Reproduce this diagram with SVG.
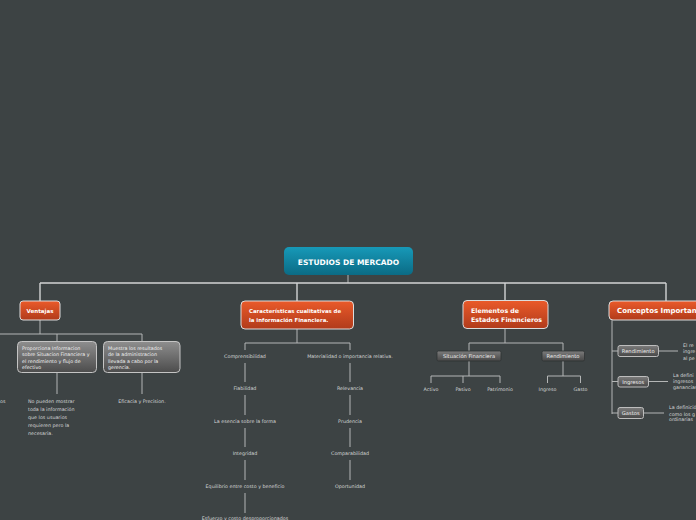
<svg xmlns="http://www.w3.org/2000/svg" width="696" height="520" viewBox="0 0 696 520">
<defs>
<linearGradient id="gTeal" x1="0" y1="0" x2="0" y2="1"><stop offset="0" stop-color="#1799b8"/><stop offset="1" stop-color="#0b6b85"/></linearGradient>
<linearGradient id="gOr" x1="0" y1="0" x2="0" y2="1"><stop offset="0" stop-color="#ea5a2a"/><stop offset="1" stop-color="#b13b1b"/></linearGradient>
<linearGradient id="gGrey" x1="0" y1="0" x2="0" y2="1"><stop offset="0" stop-color="#8e8e8e"/><stop offset="1" stop-color="#4c4c4c"/></linearGradient>
<linearGradient id="gGrey2" x1="0" y1="0" x2="0" y2="1"><stop offset="0" stop-color="#7c7c7c"/><stop offset="1" stop-color="#474747"/></linearGradient>
</defs>
<style>
.bg{fill:#3d4344}
.ln{stroke:#b4b6b6;stroke-width:1;fill:none}
.lnm{stroke:#d2d4d4;stroke-width:1.4;fill:none}
.root{fill:url(#gTeal)}
.or{fill:url(#gOr);stroke:#dcdcdc;stroke-width:1}
.gr{fill:url(#gGrey);stroke:#c4c4c4;stroke-width:1}
.gs{fill:url(#gGrey2);stroke:#2e3233;stroke-width:0.8}
.gb{fill:url(#gGrey2);stroke:#bdbdbd;stroke-width:1}
text{font-family:"DejaVu Sans","Liberation Sans",sans-serif;fill:#ffffff}
.tb{font-weight:bold}
.lf{font-size:4.8px;fill:#d6d8d8;text-anchor:middle}
.lfl{font-size:4.8px;fill:#d6d8d8}
.bx{font-size:4.8px;fill:#f2f2f2}
.sm{font-size:5.2px;fill:#eeeeee;text-anchor:middle}
</style>
<rect class="bg" x="0" y="0" width="696" height="520"/>

<g id="connectors">
<path class="ln" d="M348 275V283"/>
<path class="lnm" d="M40 283H666M40 283V301M297 283V301M505 283V301M666 283V301"/>
<path class="ln" d="M40 320V334M0 334H142M57 334V341M142 334V341M57 373V394M142 373V394"/>
<path class="ln" d="M297 329V343M245 343H350M245 343V350M350 343V350"/>
<path class="ln" d="M245 363V382M245 395V415M245 428V447M245 460V480M245 493V513"/>
<path class="ln" d="M350 363V382M350 395V415M350 428V447M350 460V480"/>
<path class="ln" d="M505 329V343M469 343H563M469 343V351M563 343V351"/>
<path class="ln" d="M469 361V376M431 376H500M431 376V383M463 376V383M500 376V383"/>
<path class="ln" d="M563 361V376M547.5 376H580.5M547.5 376V383M580.5 376V383"/>
<path class="ln" d="M612 320V414M612 351H618M612 381.5H618M612 413H618"/>
<path class="ln" d="M658 351H678M649 381.5H668M643 413H664"/>
</g>

<g id="root">
<rect class="root" x="284" y="247" width="129" height="28" rx="5"/>
<text class="tb" x="348.5" y="264.5" font-size="7.5" text-anchor="middle">ESTUDIOS DE MERCADO</text>
</g>

<g id="ventajas">
<rect class="or" x="20" y="301" width="40" height="19" rx="3"/>
<text class="tb" x="40" y="312.5" font-size="5.5" text-anchor="middle">Ventajas</text>
</g>
<g id="proporciona">
<rect class="gr" x="17.5" y="341.5" width="79" height="31" rx="4"/>
<text class="bx" x="22" y="350">Proporciona Informacion</text>
<text class="bx" x="22" y="356">sobre Situacion Financiera y</text>
<text class="bx" x="22" y="363">el rendimiento  y flujo de</text>
<text class="bx" x="22" y="369">efectivo</text>
</g>
<g id="muestra">
<rect class="gr" x="103.5" y="341.5" width="76.5" height="31" rx="4"/>
<text class="bx" x="108" y="350">Muestra los resultados</text>
<text class="bx" x="108" y="356">de la administracion</text>
<text class="bx" x="108" y="363">llevada a cabo  por la</text>
<text class="bx" x="108" y="369">gerencia.</text>
</g>
<g id="os"><text class="lfl" x="0" y="403">os</text></g>
<g id="nopueden">
<text class="lfl" x="28" y="403">No pueden mostrar</text>
<text class="lfl" x="28" y="411">toda la información</text>
<text class="lfl" x="28" y="419">que los usuarios</text>
<text class="lfl" x="28" y="427">requieren pero la</text>
<text class="lfl" x="28" y="435">necesaria.</text>
</g>
<g id="eficacia"><text class="lf" x="142" y="403">Eficacia y Precision.</text></g>

<g id="caracteristicas">
<rect class="or" x="241" y="301" width="112.5" height="28" rx="4"/>
<text class="tb" x="249" y="313" font-size="5.4">Características cualitativas de</text>
<text class="tb" x="249" y="322" font-size="5.4">la información Financiera.</text>
</g>
<g id="comprensibilidad"><text class="lf" x="245" y="358">Comprensibilidad</text></g>
<g id="fiabilidad"><text class="lf" x="245" y="390">Fiabilidad</text></g>
<g id="esencia"><text class="lf" x="245" y="423">La esencia sobre la forma</text></g>
<g id="integridad"><text class="lf" x="245" y="455">Integridad</text></g>
<g id="equilibrio"><text class="lf" x="245" y="488">Equilibrio entre costo y beneficio</text></g>
<g id="esfuerzo"><text class="lf" x="245" y="520">Esfuerzo y costo desproporcionados</text></g>
<g id="materialidad"><text class="lf" x="350" y="358">Materialidad o importancia relativa.</text></g>
<g id="relevancia"><text class="lf" x="350" y="390">Relevancia</text></g>
<g id="prudencia"><text class="lf" x="350" y="423">Prudencia</text></g>
<g id="comparabilidad"><text class="lf" x="350" y="455">Comparabilidad</text></g>
<g id="oportunidad"><text class="lf" x="350" y="488">Oportunidad</text></g>

<g id="elementos">
<rect class="or" x="463" y="300.5" width="85" height="28" rx="4"/>
<text class="tb" x="471" y="313" font-size="6.3">Elementos de</text>
<text class="tb" x="471" y="322" font-size="6.3">Estados Financieros</text>
</g>
<g id="situacion">
<rect class="gs" x="437" y="351" width="64" height="10" rx="1.5"/>
<text class="sm" x="469" y="358">Situación Financiera</text>
</g>
<g id="rendimiento1">
<rect class="gs" x="542" y="351" width="42.5" height="10" rx="1.5"/>
<text class="sm" x="563" y="358">Rendimiento</text>
</g>
<g id="activo"><text class="lf" x="431" y="391">Activo</text></g>
<g id="pasivo"><text class="lf" x="463" y="391">Pasivo</text></g>
<g id="patrimonio"><text class="lf" x="500" y="391">Patrimonio</text></g>
<g id="ingreso"><text class="lf" x="547.5" y="391">Ingreso</text></g>
<g id="gasto"><text class="lf" x="580.5" y="391">Gasto</text></g>

<g id="conceptos">
<rect class="or" x="609" y="301" width="100" height="19" rx="4"/>
<text class="tb" x="617" y="313" font-size="7">Conceptos Importantes</text>
</g>
<g id="rendimiento2">
<rect class="gb" x="618" y="345.5" width="40.5" height="11" rx="2"/>
<text class="sm" x="638.2" y="353">Rendimiento</text>
</g>
<g id="ingresos">
<rect class="gb" x="618" y="376.5" width="30.5" height="10.5" rx="2"/>
<text class="sm" x="633.2" y="383.8">Ingresos</text>
</g>
<g id="gastos">
<rect class="gb" x="618" y="407.5" width="25.5" height="11" rx="2"/>
<text class="sm" x="630.7" y="415">Gastos</text>
</g>
<g id="rend-text">
<text class="lfl" x="683" y="346.5">El re</text>
<text class="lfl" x="683" y="353">ingre</text>
<text class="lfl" x="683" y="359.5">al pe</text>
</g>
<g id="ing-text">
<text class="lfl" x="673" y="377">La defini</text>
<text class="lfl" x="673" y="383">ingresos</text>
<text class="lfl" x="673" y="388.5">ganancias</text>
</g>
<g id="gas-text">
<text class="lfl" x="669" y="409">La definición</text>
<text class="lfl" x="669" y="415.5">como los g</text>
<text class="lfl" x="669" y="421">ordinarias</text>
</g>
</svg>
